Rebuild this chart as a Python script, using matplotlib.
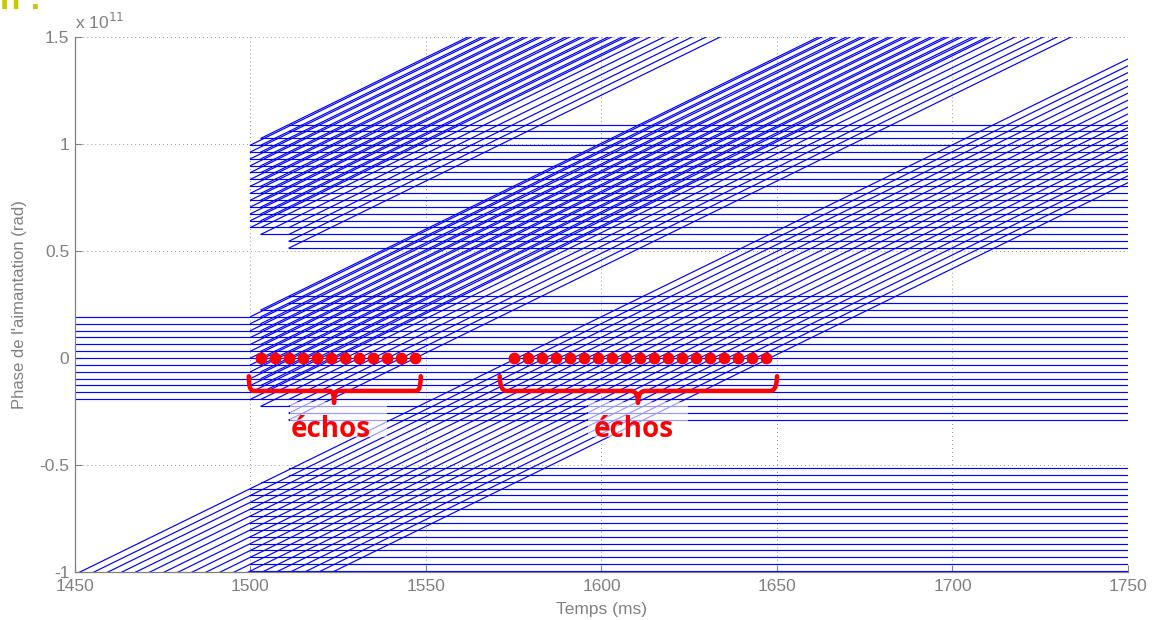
import matplotlib
matplotlib.use("Agg")
import matplotlib.pyplot as plt
from matplotlib.patches import Rectangle
from matplotlib.path import Path
from matplotlib.patches import PathPatch

# ---------------- data (phase in units of 1e11 rad, time in ms) ----------------
T_MIN, T_MAX = 1450, 1750
SLOPE = 0.00803          # dephasing rate, 1e11 rad per ms

# stored (horizontal) phase levels and the time at which each one appears
mid_levels = [-0.289, -0.257, -0.225, -0.193, -0.161, -0.128, -0.096, -0.064, -0.032, 0.000,
              0.032, 0.064, 0.096, 0.128, 0.161, 0.193, 0.225, 0.257, 0.289]
mid_start = [1511, 1511, 1503, 1450, 1450, 1450, 1450, 1450, 1450, 1450,
             1450, 1450, 1450, 1450, 1450, 1450, 1503, 1511, 1511]

upper_levels = [0.514, 0.546, 0.578, 0.610, 0.642, 0.674, 0.706, 0.738, 0.770, 0.803,
                0.835, 0.867, 0.899, 0.931, 0.963, 0.995, 1.027, 1.059, 1.091]
upper_start = [1511, 1511, 1503, 1500, 1500, 1500, 1500, 1500, 1500, 1500,
               1500, 1500, 1500, 1500, 1500, 1500, 1503, 1511, 1511]

lower_levels = [-0.995, -0.963, -0.931, -0.899, -0.867, -0.835, -0.803, -0.770, -0.738,
                -0.706, -0.674, -0.642, -0.610, -0.578, -0.546, -0.514]
lower_start = [1500, 1500, 1500, 1500, 1500, 1500, 1500, 1500, 1500,
               1500, 1500, 1500, 1500, 1503, 1511, 1511]

# RF pulses and the stored levels they recall into the transverse plane
pulse_times = [1500, 1503, 1511]
recalled_levels = [
    # pulse at 1500 ms
    [-0.193, -0.161, -0.128, -0.096, -0.064, -0.032, 0.000, 0.032, 0.064, 0.096, 0.128,
     0.161, 0.193,
     0.610, 0.642, 0.674, 0.706, 0.738, 0.770, 0.803, 0.835, 0.867, 0.899, 0.931, 0.963,
     0.995],
    # pulse at 1503 ms
    [-0.225, -0.193, -0.161, -0.128, -0.096, -0.064, -0.032, 0.000, 0.032, 0.064, 0.096,
     0.128, 0.161, 0.193, 0.225,
     0.578, 0.610, 0.642, 0.674, 0.706, 0.738, 0.770, 0.803, 0.835, 0.867, 0.899, 0.931,
     0.963, 0.995, 1.027],
    # pulse at 1511 ms
    [-0.289, -0.257, -0.225, -0.193,
     0.514, 0.546, 0.578, 0.610],
]

# transverse magnetisation already dephasing before the pulses: phase at t = 1500 ms
incoming_phase = [-0.610, -0.642, -0.674, -0.706, -0.738, -0.770, -0.803, -0.835, -0.867,
                  -0.899, -0.931, -0.963, -0.995, -1.027, -1.059, -1.091, -1.124, -1.156,
                  -1.188]

# echo annotations
echo1_times = [1503, 1507, 1511, 1515, 1519, 1523, 1527, 1531, 1535, 1539, 1543, 1547]
echo2_times = [1575, 1579, 1583, 1587, 1591, 1595, 1599, 1603, 1607, 1611, 1615, 1619,
               1623, 1627, 1631, 1635, 1639, 1643, 1647]

x_ticks = [1450, 1500, 1550, 1600, 1650, 1700, 1750]
y_ticks = [-1.0, -0.5, 0.0, 0.5, 1.0, 1.5]
y_ticklabels = ["-1", "-0.5", "0", "0.5", "1", "1.5"]

# ---------------- figure ----------------
plt.rcParams['font.family'] = ['Liberation Sans', 'DejaVu Sans']
fig = plt.figure(figsize=(11.55, 6.2), dpi=100)
ax = fig.add_axes([75 / 1155, 1 - 572 / 620, (1128 - 75) / 1155, (572 - 37) / 620])

BLUE = '#0000ff'
LW = 0.85

# stored magnetisation: horizontal lines
for lev, t0 in zip(mid_levels + upper_levels + lower_levels,
                   mid_start + upper_start + lower_start):
    ax.plot([t0, T_MAX], [lev, lev], color=BLUE, lw=LW, zorder=2)

# magnetisation recalled to the transverse plane: dephasing lines
for p, levs in zip(pulse_times, recalled_levels):
    for lev in levs:
        ax.plot([p, T_MAX], [lev, lev + SLOPE * (T_MAX - p)], color=BLUE, lw=LW, zorder=2)

# transverse lines dephasing since before the pulse train
for ph in incoming_phase:
    ax.plot([T_MIN, T_MAX], [ph + SLOPE * (T_MIN - 1500), ph + SLOPE * (T_MAX - 1500)],
            color=BLUE, lw=LW, zorder=2)

ax.set_xlim(T_MIN, T_MAX)
ax.set_ylim(-1.0, 1.5)

# MATLAB-like axes
GREY = '#808080'
ax.set_xticks(x_ticks)
ax.set_yticks(y_ticks)
ax.set_yticklabels(y_ticklabels)
ax.tick_params(direction='in', length=5, colors=GREY, labelcolor=GREY, labelsize=12.5,
               width=0.8)
ax.tick_params(axis='x', pad=5)
ax.tick_params(axis='y', pad=4)
for side in ['top', 'right']:
    ax.spines[side].set_visible(False)
for side in ['left', 'bottom']:
    ax.spines[side].set_color(GREY)
    ax.spines[side].set_linewidth(0.9)
ax.grid(True, color=GREY, linestyle=(0, (0.8, 3.3)), linewidth=0.7, zorder=0)
ax.set_axisbelow(True)
ax.set_xlabel("Temps (ms)", color=GREY, fontsize=12.5, labelpad=6)
ax.set_ylabel("Phase de l'aimantation (rad)", color=GREY, fontsize=12, labelpad=9)
ax.text(0.0, 1.01, r"x 10$^{11}$", transform=ax.transAxes, color=GREY, fontsize=12.5,
        ha='left', va='bottom')

# ---------------- red echo annotations ----------------
RED = '#ff0000'
ax.plot(echo1_times, [0.0] * len(echo1_times), 'o', color=RED, ms=7.5, zorder=6)
ax.plot(echo2_times, [0.0] * len(echo2_times), 'o', color=RED, ms=7.5, zorder=6)


def brace(t_left, t_right, y_top, y_tip, t_tip):
    h = y_top - y_tip
    yk = y_top - 0.55 * h
    r = 0.2 * (t_right - t_left) / 8
    verts = [(t_left, y_top), (t_left, yk), (t_left + r, yk), (t_tip - r, yk),
             (t_tip, yk), (t_tip, y_tip),
             (t_tip, yk), (t_tip + r, yk), (t_right - r, yk), (t_right, yk), (t_right, y_top)]
    codes = [Path.MOVETO, Path.CURVE3, Path.CURVE3, Path.LINETO,
             Path.CURVE3, Path.CURVE3,
             Path.CURVE3, Path.CURVE3, Path.LINETO, Path.CURVE3, Path.CURVE3]
    ax.add_patch(PathPatch(Path(verts, codes), fill=False, edgecolor=RED, lw=3.2,
                           capstyle='round', joinstyle='round', zorder=6))


brace(1499.5, 1548.5, -0.085, -0.21, 1523.8)
brace(1571.0, 1650.0, -0.085, -0.21, 1610.4)

for tc, b0, b1 in [(1522.9, 1511.3, 1538.9), (1609.3, 1596.2, 1624.6)]:
    ax.add_patch(Rectangle((b0, -0.37), b1 - b0, 0.165, facecolor='white', alpha=0.6,
                           edgecolor='none', zorder=5))
    ax.text(tc, -0.37, "échos", color=RED, fontsize=20, fontweight='bold',
            family=['Open Sans', 'DejaVu Sans'], ha='center', va='baseline', zorder=7)

# clipped slide title remnant (top-left)
fig.text(0.0, 1.0 - 9 / 620, "n :", color='#c8c800', fontsize=24, fontweight='bold',
         ha='left', va='baseline')

fig.savefig("out.png", dpi=100)
